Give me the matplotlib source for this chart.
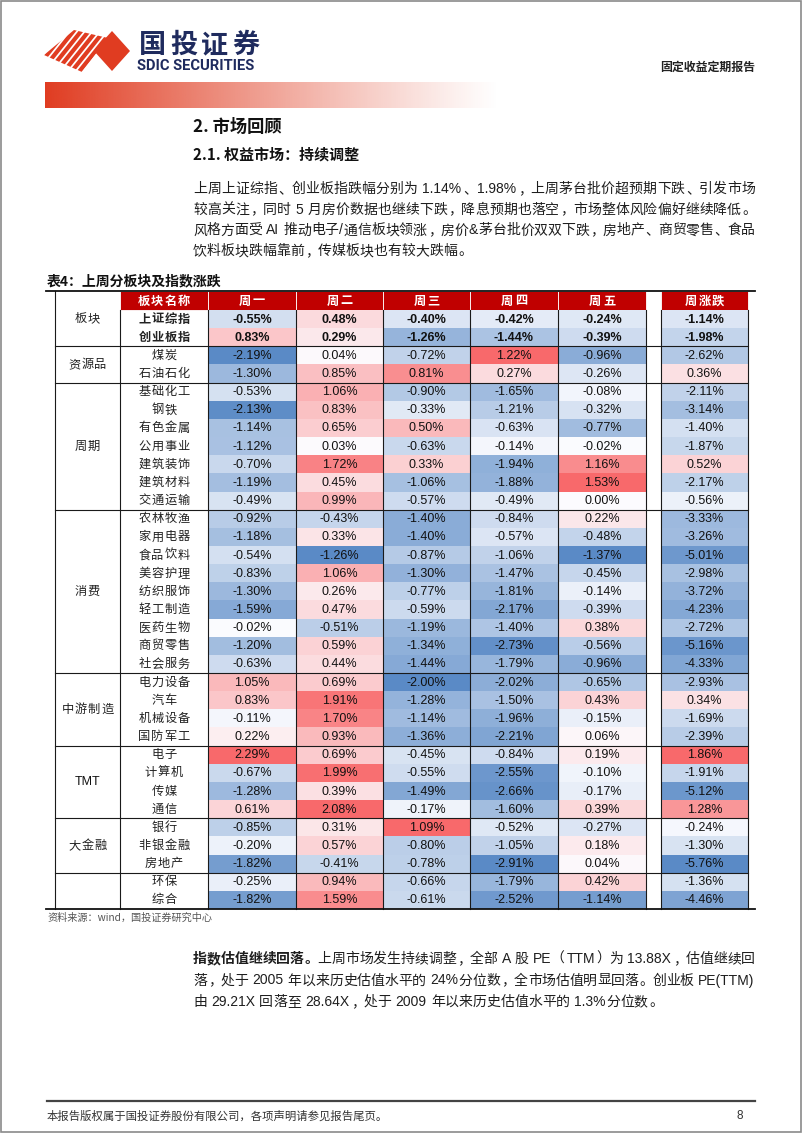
import matplotlib
matplotlib.use('Agg')
import matplotlib.pyplot as plt
from matplotlib.patches import Rectangle, Polygon
from matplotlib.colors import LinearSegmentedColormap, TwoSlopeNorm, to_rgb
import numpy as np

CJK = 'Noto Sans CJK SC'
LAT = 'Liberation Sans'

# ---- table data ----
groups = ['板块', '资源品', '周期', '消费', '中游制造', 'TMT', '大金融', '']
group_sizes = [2, 2, 7, 9, 4, 4, 3, 2]
names = ['上证综指', '创业板指', '煤炭', '石油石化',
         '基础化工', '钢铁', '有色金属', '公用事业', '建筑装饰', '建筑材料', '交通运输',
         '农林牧渔', '家用电器', '食品饮料', '美容护理', '纺织服饰', '轻工制造', '医药生物', '商贸零售', '社会服务',
         '电力设备', '汽车', '机械设备', '国防军工',
         '电子', '计算机', '传媒', '通信',
         '银行', '非银金融', '房地产',
         '环保', '综合']
mon = [-0.55, 0.83, -2.19, -1.30,
       -0.53, -2.13, -1.14, -1.12, -0.70, -1.19, -0.49,
       -0.92, -1.18, -0.54, -0.83, -1.30, -1.59, -0.02, -1.20, -0.63,
       1.05, 0.83, -0.11, 0.22,
       2.29, -0.67, -1.28, 0.61,
       -0.85, -0.20, -1.82,
       -0.25, -1.82]
tue = [0.48, 0.29, 0.04, 0.85,
       1.06, 0.83, 0.65, 0.03, 1.72, 0.45, 0.99,
       -0.43, 0.33, -1.26, 1.06, 0.26, 0.47, -0.51, 0.59, 0.44,
       0.69, 1.91, 1.70, 0.93,
       0.69, 1.99, 0.39, 2.08,
       0.31, 0.57, -0.41,
       0.94, 1.59]
wed = [-0.40, -1.26, -0.72, 0.81,
       -0.90, -0.33, 0.50, -0.63, 0.33, -1.06, -0.57,
       -1.40, -1.40, -0.87, -1.30, -0.77, -0.59, -1.19, -1.34, -1.44,
       -2.00, -1.28, -1.14, -1.36,
       -0.45, -0.55, -1.49, -0.17,
       1.09, -0.80, -0.78,
       -0.66, -0.61]
thu = [-0.42, -1.44, 1.22, 0.27,
       -1.65, -1.21, -0.63, -0.14, -1.94, -1.88, -0.49,
       -0.84, -0.57, -1.06, -1.47, -1.81, -2.17, -1.40, -2.73, -1.79,
       -2.02, -1.50, -1.96, -2.21,
       -0.84, -2.55, -2.66, -1.60,
       -0.52, -1.05, -2.91,
       -1.79, -2.52]
fri = [-0.24, -0.39, -0.96, -0.26,
       -0.08, -0.32, -0.77, -0.02, 1.16, 1.53, 0.00,
       0.22, -0.48, -1.37, -0.45, -0.14, -0.39, 0.38, -0.56, -0.96,
       -0.65, 0.43, -0.15, 0.06,
       0.19, -0.10, -0.17, 0.39,
       -0.27, 0.18, 0.04,
       0.42, -1.14]
week = [-1.14, -1.98, -2.62, 0.36,
        -2.11, -3.14, -1.40, -1.87, 0.52, -2.17, -0.56,
        -3.33, -3.26, -5.01, -2.98, -3.72, -4.23, -2.72, -5.16, -4.33,
        -2.93, 0.34, -1.69, -2.39,
        1.86, -1.91, -5.12, 1.28,
        -0.24, -1.30, -5.76,
        -1.36, -4.46]
headers = ['板块名称', '周一', '周二', '周三', '周四', '周五', '周涨跌']

para1 = [
    [('上周上证综指、创业板指跌幅分别为 1.14%、1.98%，上周茅台批价超预期下跌、引发市场', 'normal')],
    [('较高关注，同时 5 月房价数据也继续下跌，降息预期也落空，市场整体风险偏好继续降低。', 'normal')],
    [('风格方面受 AI 推动电子/通信板块领涨，房价&茅台批价双双下跌，房地产、商贸零售、食品', 'normal')],
    [('饮料板块跌幅靠前，传媒板块也有较大跌幅。', 'normal')],
]
para2 = [
    [('指数估值继续回落。', 'bold'), ('上周市场发生持续调整，全部 A 股 PE（TTM）为 13.88X，估值继续回', 'normal')],
    [('落，处于 2005 年以来历史估值水平的 24%分位数，全市场估值明显回落。创业板 PE(TTM)', 'normal')],
    [('由 29.21X 回落至 28.64X，处于 2009 年以来历史估值水平的 1.3%分位数。', 'normal')],
]

W, H = 802, 1133
fig = plt.figure(figsize=(W / 100, H / 100), dpi=100)
ax = fig.add_axes([0, 0, 1, 1])
ax.set_xlim(0, W)
ax.set_ylim(H, 0)
ax.axis('off')
r = fig.canvas.get_renderer()


def spaced(xc, y, s, pitch, **kw):
    n = len(s)
    for i, ch in enumerate(s):
        ax.text(xc + (i - (n - 1) / 2) * pitch, y, ch, ha='center', va='center', **kw)


def text_line(y, segs, x0, x1, size, justify=True, color='#1e1e1e'):
    em = size * 100 / 72
    items = []
    for txt, w in segs:
        buf = ''
        for ch in txt:
            if ord(ch) < 128 and ch != ' ':
                buf += ch
                continue
            if buf:
                items.append(('a', buf, w))
                buf = ''
            items.append(('s' if ch == ' ' else 'c', ch, w))
        if buf:
            items.append(('a', buf, w))
    base = y + 0.36 * em
    widths, objs = [], []
    for kind, t, w in items:
        if kind == 's':
            widths.append(em * 0.25)
            objs.append(None)
        elif kind == 'c':
            o = ax.text(0, base, t, fontsize=size, fontweight=w, family=[CJK],
                        color=color, ha='center', va='baseline')
            widths.append(em)
            objs.append(o)
        else:
            o = ax.text(0, base, t, fontsize=size, fontweight=w, family=[LAT, 'DejaVu Sans'],
                        color=color, ha='left', va='baseline')
            widths.append(o.get_window_extent(r).width + em * 0.1)
            objs.append(o)
    gap = (x1 - x0 - sum(widths)) / (len(items) - 1) if justify else 0
    x = x0
    for (kind, t, w), wd, o in zip(items, widths, objs):
        if o is not None:
            if kind == 'c':
                if t in '，、。：；）':
                    o.set_ha('left')
                    o.set_x(x + 0.08 * em)
                elif t == '（':
                    o.set_ha('right')
                    o.set_x(x + 0.92 * em)
                else:
                    o.set_x(x + wd / 2)
            else:
                o.set_x(x + 0.05 * em)
        x += wd + gap


# ---- page frame ----
ax.add_patch(Rectangle((0.5, 0.5), W - 2, H - 2, fill=False, ec='#8a8a8a', lw=1.2))

# ---- logo ----
RED = '#E03C21'
NAVY = '#1F2B5E'
clip = Polygon([(44, 55), (74, 30), (108, 38), (82, 72)], closed=True, fc='none', ec='none')
ax.add_patch(clip)
for k in range(10):
    x0 = 30 + k * 7.6
    ln, = ax.plot([x0, x0 + 40], [76, 26], color=RED, lw=3.0, solid_capstyle='butt')
    ln.set_clip_path(clip)
ax.add_patch(Polygon([(94, 51), (112, 31), (130, 51), (112, 71)], closed=True, fc=RED, ec='none'))
spaced(199, 45, '国投证券', 31, fontsize=19.5, fontweight='bold', family=[CJK], color=NAVY)
ax.text(137, 66, 'SDIC SECURITIES', fontsize=10.6, fontweight='bold', family=['Roboto', 'DejaVu Sans'],
        color=NAVY, ha='left', va='center')
ax.text(755, 67, '固定收益定期报告', fontsize=8.6, fontweight='bold', family=[CJK], color='#222222',
        ha='right', va='center')

# red gradient band
band = np.ones((1, 300, 4))
band[..., :3] = to_rgb(RED)
band[0, :, 3] = np.linspace(1, 0, 300) ** 1.1
ax.imshow(band, extent=(45, 500, 108, 82), aspect='auto', interpolation='bilinear', zorder=1)
ax.set_xlim(0, W)
ax.set_ylim(H, 0)

# ---- headings ----
ax.text(193, 127, '2. 市场回顾', fontsize=12.4, fontweight='bold', family=[CJK], color='#111111',
        ha='left', va='center')
ax.text(193, 155, '2.1. 权益市场：持续调整', fontsize=10.8, fontweight='bold', family=[CJK], color='#111111',
        ha='left', va='center')

for i, segs in enumerate(para1):
    text_line(188 + i * 20.7, segs, 193, 755, 10, justify=(i < len(para1) - 1))

ax.text(47, 281, '表4：上周分板块及指数涨跌', fontsize=10, fontweight='bold', family=[CJK], color='#111111',
        ha='left', va='center')

# ---- table ----
xe = [55, 120, 208, 296, 383, 470, 558, 646, 661, 748]
val_cols = [(2, 3), (3, 4), (4, 5), (5, 6), (6, 7), (8, 9)]
top, head_bot, bot = 291, 310, 909
n = len(names)
rh = (bot - head_bot) / n
cmap = LinearSegmentedColormap.from_list('xl', ['#5A8AC6', '#FCFCFF', '#F8696B'])
columns = [mon, tue, wed, thu, fri, week]

# header row
hx = [(1, 2)] + val_cols
for (a, b), lab in zip(hx, headers):
    ax.add_patch(Rectangle((xe[a], top), xe[b] - xe[a], head_bot - top, fc='#C00000', ec='white', lw=0.6))
    spaced((xe[a] + xe[b]) / 2, (top + head_bot) / 2 + 0.5, lab, 13.5 if len(lab) > 2 else 14,
           fontsize=8.8, fontweight='bold', family=[CJK], color='white')

for c, vals in enumerate(columns):
    a, b = val_cols[c]
    arr = np.array(vals)
    norm = TwoSlopeNorm(vcenter=0, vmin=arr.min(), vmax=arr.max())
    for i, v in enumerate(vals):
        y0 = head_bot + i * rh
        ax.add_patch(Rectangle((xe[a], y0), xe[b] - xe[a], rh, fc=cmap(norm(v)), ec='none'))
        ax.text((xe[a] + xe[b]) / 2, y0 + rh / 2 + 0.5, f'{v:.2f}%', fontsize=9,
                fontweight='bold' if i < 2 else 'normal', family=[LAT], color='#111111',
                ha='center', va='center')

for i, nm in enumerate(names):
    spaced((xe[1] + xe[2]) / 2, head_bot + i * rh + rh / 2, nm, 13,
           fontsize=8.8, fontweight='bold' if i < 2 else 'normal', family=[CJK], color='#222222')

start = 0
for g, sz in zip(groups, group_sizes):
    y_a = top if start == 0 else head_bot + start * rh
    y_b = head_bot + (start + sz) * rh
    yc = (y_a + y_b) / 2
    if g == 'TMT':
        ax.text((xe[0] + xe[1]) / 2, yc, g, fontsize=9, family=[LAT], color='#111111', ha='center', va='center')
    elif g:
        spaced((xe[0] + xe[1]) / 2, yc, g, 13, fontsize=8.8, family=[CJK], color='#222222')
    start += sz
    if start < n:
        ax.plot([xe[0], xe[-1]], [y_b, y_b], color='#1a1a1a', lw=0.8)

for k, x in enumerate(xe):
    y_start = top if k == 0 else head_bot
    ax.plot([x, x], [y_start, bot], color='#1a1a1a', lw=0.8)
ax.plot([46, 755], [top, top], color='#111111', lw=1.3)
ax.plot([46, 755], [bot, bot], color='#111111', lw=1.3)

ax.text(47, 918, '资料来源：wind，国投证券研究中心', fontsize=7.3, style='italic', family=[CJK],
        color='#555555', ha='left', va='center')

for i, segs in enumerate(para2):
    text_line(958 + i * 21.5, segs, 193, 755, 10, justify=(i < len(para2) - 1))

# ---- footer ----
ax.plot([47, 755], [1101, 1101], color='#444444', lw=1.6)
ax.text(47, 1116, '本报告版权属于国投证券股份有限公司，各项声明请参见报告尾页。', fontsize=8.2,
        family=[CJK], color='#333333', ha='left', va='center')
ax.text(740, 1116, '8', fontsize=8.5, family=[LAT], color='#333333', ha='center', va='center')

fig.savefig('out.png', dpi=100)
